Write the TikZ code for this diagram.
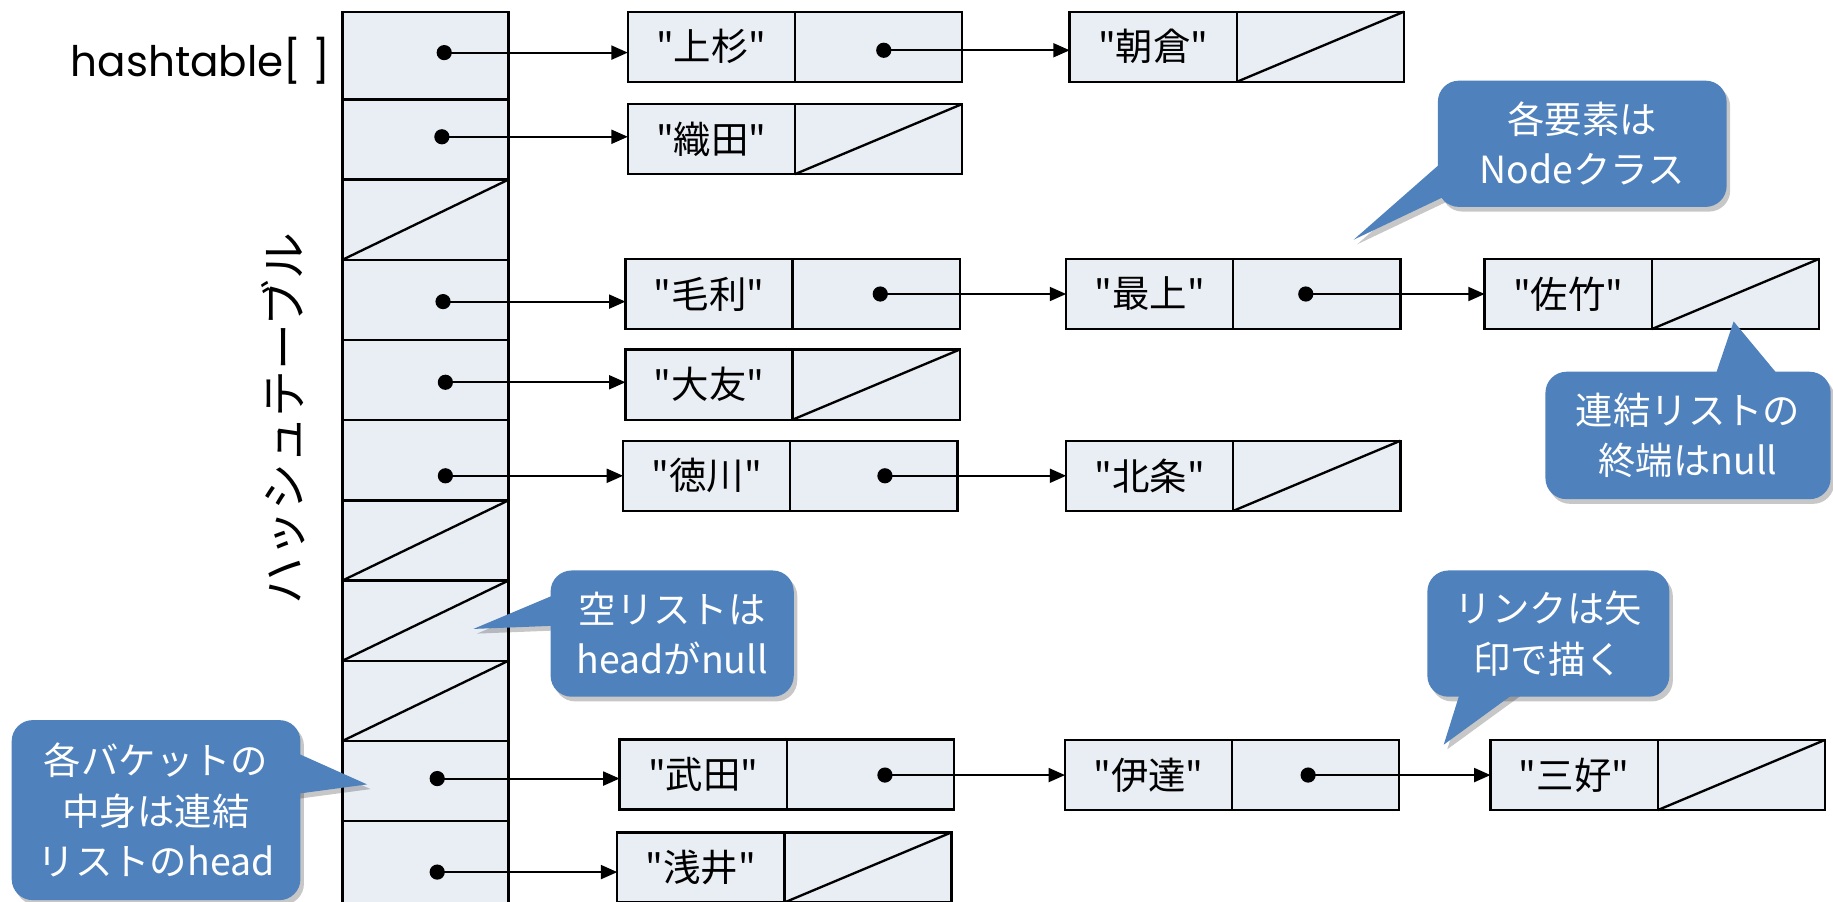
\documentclass[tikz,border=0pt]{standalone}
\usepackage{fontspec}
\setmainfont{Noto Sans CJK JP}
\newfontfamily\lblfont{Noto Sans CJK JP}
\newfontfamily\latfont{Poppins}
\usetikzlibrary{arrows.meta}
\definecolor{cellfill}{HTML}{E9EDF4}
\definecolor{callblue}{HTML}{4F81BD}
\newcommand\calloutshape[2]{%
  \fill[black, opacity=0.22, rounded corners=18pt, shift={(3,4)}] #1;
  \fill[black, opacity=0.22, shift={(3,4)}] #2;
  \fill[callblue, rounded corners=18pt] #1;
  \fill[callblue] #2;}
\begin{document}
\begin{tikzpicture}[x=1pt,y=-1pt,
  cell/.style={draw, line width=2pt, fill=cellfill, minimum width=143pt, minimum height=60pt,
    inner sep=0pt, outer sep=0pt, font=\lblfont\fontsize{32}{32}\selectfont},
  bucket/.style={draw, line width=2pt, fill=cellfill, minimum width=142pt, inner sep=0pt, outer sep=0pt},
  dotn/.style={circle, fill=black, inner sep=0pt, minimum size=13pt},
  link/.style={line width=1.6pt, -{Triangle[length=14pt,width=12pt]}},
  nul/.style={line width=2pt},
  calltext/.style={text=white, align=center, font=\fontsize{32}{43}\selectfont, inner sep=0pt},
]
\useasboundingbox (0,0) rectangle (1568,771);
\fill[white] (0,0) rectangle (1568,771);

% labels
\node[anchor=east, font=\latfont\fontsize{36}{36}\selectfont, inner sep=0pt] (ht) at (283,52) {hashtable[ ]};
\node[rotate=90, font=\fontsize{40}{40}\selectfont, inner sep=0pt] (vt) at (242,358) {ハッシュテーブル};

% bucket column
\node[bucket, minimum height=75pt] (b0) at (364,47.5) {};
\node[bucket, minimum height=68.6pt] (b1) at (364,119.3) {};
\node[bucket, minimum height=68.6pt] (b2) at (364,187.9) {};
\node[bucket, minimum height=68.6pt] (b3) at (364,256.5) {};
\node[bucket, minimum height=68.6pt] (b4) at (364,325.1) {};
\node[bucket, minimum height=68.6pt] (b5) at (364,393.7) {};
\node[bucket, minimum height=68.6pt] (b6) at (364,462.3) {};
\node[bucket, minimum height=68.6pt] (b7) at (364,530.9) {};
\node[bucket, minimum height=68.6pt] (b8) at (364,599.5) {};
\node[bucket, minimum height=68.6pt] (b9) at (364,668.1) {};
\node[bucket, minimum height=80pt] (b10) at (364,742.4) {};
\foreach \b in {b2,b6,b7,b8} \draw[nul] (\b.south west) -- (\b.north east);

% list nodes
\node[cell] (u1) at (608.5,40) {"上杉"};
\node[cell, anchor=west] (u1p) at (u1.east) {};
\node[cell] (a1) at (986.5,40) {"朝倉"};
\node[cell, anchor=west] (a1p) at (a1.east) {};

\node[cell] (o1) at (608.5,119) {"織田"};
\node[cell, anchor=west] (o1p) at (o1.east) {};

\node[cell] (m1) at (606.5,251.5) {"毛利"};
\node[cell, anchor=west] (m1p) at (m1.east) {};
\node[cell] (mg) at (983.5,251.5) {"最上"};
\node[cell, anchor=west] (mgp) at (mg.east) {};
\node[cell] (st) at (1341.5,251.5) {"佐竹"};
\node[cell, anchor=west] (stp) at (st.east) {};

\node[cell] (ot) at (606.5,329) {"大友"};
\node[cell, anchor=west] (otp) at (ot.east) {};

\node[cell] (tk) at (604.5,407) {"徳川"};
\node[cell, anchor=west] (tkp) at (tk.east) {};
\node[cell] (hj) at (983.5,407) {"北条"};
\node[cell, anchor=west] (hjp) at (hj.east) {};

\node[cell] (td) at (601.5,662.5) {"武田"};
\node[cell, anchor=west] (tdp) at (td.east) {};
\node[cell] (dt) at (982.5,663) {"伊達"};
\node[cell, anchor=west] (dtp) at (dt.east) {};
\node[cell] (mk) at (1346.5,663) {"三好"};
\node[cell, anchor=west] (mkp) at (mk.east) {};

\node[cell] (as) at (599.5,742) {"浅井"};
\node[cell, anchor=west] (asp) at (as.east) {};

\foreach \c in {a1p,o1p,stp,otp,hjp,mkp,asp} \draw[nul] (\c.south west) -- (\c.north east);

% dots in buckets
\node[dotn] (d0) at (380,45) {};
\node[dotn] (d1) at (378,117) {};
\node[dotn] (d3) at (379,258) {};
\node[dotn] (d4) at (381,327) {};
\node[dotn] (d5) at (381,407) {};
\node[dotn] (d9) at (374,666) {};
\node[dotn] (d10) at (374,746) {};
% dots in next-cells
\node[dotn] (e1) at (756,43) {};
\node[dotn] (e2) at (753,251.5) {};
\node[dotn] (e3) at (1117,251.5) {};
\node[dotn] (e4) at (757,407) {};
\node[dotn] (e5) at (757,663) {};
\node[dotn] (e6) at (1119,663) {};

% links
\draw[link] (d0.center) -- (d0 -| u1.west);
\draw[link] (d1.center) -- (d1 -| o1.west);
\draw[link] (d3.center) -- (d3 -| m1.west);
\draw[link] (d4.center) -- (d4 -| ot.west);
\draw[link] (d5.center) -- (d5 -| tk.west);
\draw[link] (d9.center) -- (d9 -| td.west);
\draw[link] (d10.center) -- (d10 -| as.west);
\draw[link] (e1.center) -- (e1 -| a1.west);
\draw[link] (e2.center) -- (e2 -| mg.west);
\draw[link] (e3.center) -- (e3 -| st.west);
\draw[link] (e4.center) -- (e4 -| hj.west);
\draw[link] (e5.center) -- (e5 -| dt.west);
\draw[link] (e6.center) -- (e6 -| mk.west);

% callouts
\calloutshape{(1230,69) rectangle (1477,177)}{(1240,133) -- (1158,205) -- (1240,166) -- cycle}
\node[calltext] (c1) at (1353.5,123) {各要素は\\Nodeクラス};

\calloutshape{(1322,318) rectangle (1566,427)}{(1465,328) -- (1483,275) -- (1527,328) -- cycle}
\node[calltext] (c2) at (1444,372.5) {連結リストの\\終端はnull};

\calloutshape{(471,488) rectangle (679,596)}{(481,506) -- (405,538) -- (481,535) -- cycle}
\node[calltext] (c3) at (575,542) {空リストは\\headがnull};

\calloutshape{(1221,488) rectangle (1428,596)}{(1251,586) -- (1235,637) -- (1305,586) -- cycle}
\node[calltext] (c4) at (1324.5,542) {リンクは矢\\印で描く};

\calloutshape{(10,616) rectangle (257,770)}{(247,641) -- (314,671) -- (247,680) -- cycle}
\node[calltext] (c5) at (133.5,693) {各バケットの\\中身は連結\\リストのhead};
\end{tikzpicture}
\end{document}
